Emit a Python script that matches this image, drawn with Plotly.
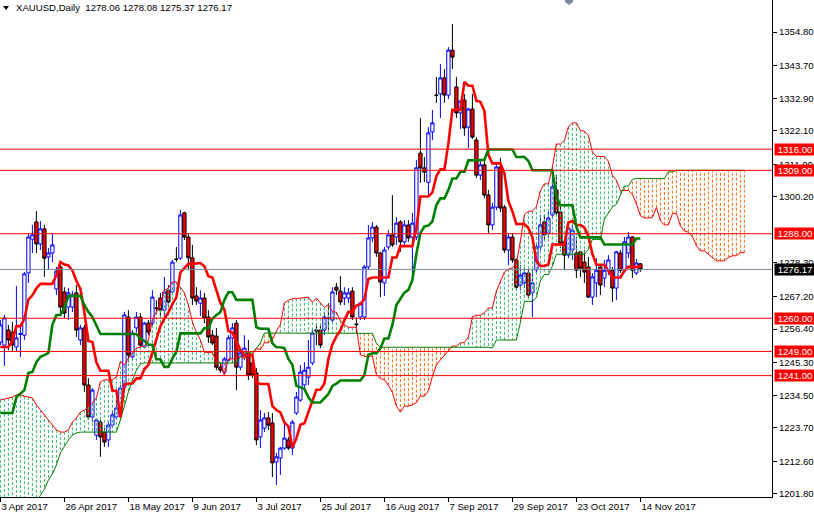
import plotly.graph_objects as go

# ---------------- data ----------------
date_labels = ['3 Apr 2017', '26 Apr 2017', '18 May 2017', '9 Jun 2017', '3 Jul 2017',
               '25 Jul 2017', '16 Aug 2017', '7 Sep 2017', '29 Sep 2017', '23 Oct 2017', '14 Nov 2017']
label_bars = [0, 16, 32, 48, 64, 80, 96, 112, 128, 144, 160]

price_ticks = [1354.80, 1343.70, 1332.90, 1322.10, 1311.00, 1300.20, 1278.30,
               1267.20, 1256.40, 1245.30, 1234.50, 1223.70, 1212.60, 1201.80]
level_lines = [1316.00, 1309.00, 1288.00, 1260.00, 1249.00, 1241.00]
bid_price = 1276.17
title_text = 'XAUUSD,Daily  1278.06 1278.08 1275.37 1276.17'

open_ = [1252.1, 1251.1, 1256.1, 1255.4, 1250.5, 1254.6, 1254.4, 1275.0, 1286.2, 1291.9,
         1284.6, 1289.6, 1280.3, 1281.6, 1269.7, 1277.0, 1268.7, 1263.7, 1263.7, 1268.4,
         1252.8, 1256.8, 1237.9, 1227.3, 1221.3, 1225.6, 1222.3, 1219.7, 1224.6, 1227.3,
         1228.9, 1237.2, 1260.4, 1247.2, 1256.8, 1260.4, 1250.5, 1258.4, 1258.4, 1263.4,
         1266.7, 1262.7, 1269.3, 1268.7, 1279.6, 1279.9, 1294.9, 1286.9, 1280.0, 1267.4,
         1265.0, 1266.7, 1260.4, 1254.4, 1254.1, 1243.8, 1242.2, 1246.1, 1253.5, 1258.4,
         1243.8, 1247.2, 1248.5, 1245.2, 1241.9, 1220.7, 1223.6, 1227.0, 1225.3, 1212.4,
         1213.7, 1217.0, 1219.7, 1217.0, 1228.6, 1232.9, 1237.9, 1240.5, 1245.2, 1256.1,
         1256.1, 1256.1, 1260.1, 1259.4, 1270.3, 1269.0, 1266.7, 1266.7, 1269.0, 1258.1,
         1260.4, 1260.4, 1277.0, 1286.6, 1290.2, 1281.6, 1271.7, 1283.6, 1287.6, 1286.9,
         1291.9, 1285.3, 1290.9, 1286.9, 1286.9, 1314.7, 1309.8, 1305.0, 1321.7, 1333.9,
         1334.3, 1339.6, 1333.9, 1348.8, 1336.6, 1328.0, 1332.3, 1323.3, 1329.3, 1319.0,
         1307.4, 1310.8, 1300.8, 1290.9, 1296.8, 1310.1, 1296.8, 1282.6, 1286.9, 1279.3,
         1271.0, 1271.7, 1275.0, 1268.4, 1276.0, 1283.6, 1291.9, 1288.2, 1294.2, 1302.5,
         1295.2, 1285.3, 1280.9, 1282.6, 1281.6, 1282.0, 1278.6, 1277.0, 1267.0, 1271.7,
         1277.0, 1273.3, 1275.9, 1275.9, 1270.0, 1281.6, 1275.9, 1281.6, 1286.9, 1275.0,
         1278.06]
high = [1259.4, 1261.1, 1257.8, 1258.8, 1270.7, 1257.8, 1275.3, 1288.2, 1290.9, 1295.5,
        1292.2, 1290.9, 1283.3, 1288.2, 1277.0, 1278.6, 1270.3, 1270.0, 1269.0, 1271.0,
        1257.8, 1257.8, 1240.2, 1236.9, 1227.0, 1226.3, 1223.6, 1226.3, 1229.6, 1232.9,
        1237.9, 1262.1, 1262.7, 1256.1, 1262.1, 1261.7, 1258.8, 1259.4, 1269.3, 1266.0,
        1268.4, 1273.7, 1271.0, 1279.3, 1283.6, 1295.9, 1295.3, 1288.2, 1284.3, 1270.3,
        1269.3, 1268.4, 1262.7, 1256.1, 1256.8, 1245.2, 1247.2, 1254.4, 1258.4, 1259.4,
        1250.1, 1254.4, 1252.8, 1246.1, 1243.5, 1229.6, 1228.6, 1229.0, 1228.6, 1215.4,
        1217.4, 1225.6, 1220.7, 1226.3, 1235.6, 1244.5, 1245.5, 1252.8, 1256.1, 1257.8,
        1257.8, 1262.1, 1265.0, 1270.3, 1271.7, 1274.0, 1270.3, 1270.0, 1270.3, 1260.4,
        1265.4, 1277.6, 1290.9, 1291.9, 1290.9, 1282.0, 1283.6, 1289.2, 1300.8, 1293.5,
        1292.5, 1292.5, 1292.5, 1294.9, 1312.4, 1326.3, 1313.4, 1323.3, 1329.0, 1339.9,
        1344.2, 1342.5, 1349.8, 1357.5, 1339.9, 1332.3, 1334.3, 1329.6, 1334.3, 1320.0,
        1312.4, 1312.4, 1302.5, 1298.2, 1311.4, 1313.1, 1297.5, 1288.2, 1288.2, 1279.9,
        1277.6, 1276.6, 1276.0, 1276.0, 1284.3, 1294.2, 1294.2, 1295.2, 1308.4, 1307.4,
        1298.2, 1285.9, 1290.9, 1290.9, 1286.9, 1282.3, 1282.6, 1280.3, 1275.0, 1279.9,
        1277.6, 1279.3, 1280.9, 1277.0, 1282.3, 1282.6, 1286.9, 1288.6, 1287.2, 1279.6,
        1278.08]
low = [1251.1, 1244.2, 1249.4, 1248.8, 1248.8, 1247.2, 1252.8, 1271.7, 1281.6, 1281.6,
       1282.6, 1273.7, 1276.3, 1278.6, 1267.7, 1261.7, 1260.1, 1259.4, 1262.1, 1253.8,
       1251.1, 1235.6, 1226.3, 1225.6, 1219.7, 1214.1, 1217.4, 1217.4, 1223.6, 1226.3,
       1228.0, 1236.2, 1245.5, 1246.1, 1255.4, 1250.5, 1250.1, 1254.4, 1257.4, 1261.1,
       1260.1, 1260.4, 1263.7, 1267.7, 1278.6, 1279.3, 1285.9, 1275.9, 1264.4, 1264.4,
       1260.7, 1258.4, 1251.8, 1251.1, 1242.8, 1241.9, 1241.2, 1245.5, 1245.2, 1236.2,
       1242.8, 1246.1, 1239.5, 1240.2, 1218.0, 1217.0, 1222.3, 1223.0, 1207.4, 1204.8,
       1208.1, 1216.4, 1216.4, 1214.7, 1228.0, 1232.3, 1236.2, 1237.9, 1244.5, 1251.1,
       1250.1, 1254.4, 1256.1, 1258.8, 1267.7, 1264.4, 1264.4, 1265.0, 1259.4, 1255.1,
       1259.4, 1259.4, 1275.9, 1285.3, 1280.3, 1267.0, 1267.4, 1282.6, 1283.6, 1284.3,
       1282.0, 1284.3, 1285.3, 1274.3, 1285.9, 1304.8, 1305.1, 1300.5, 1319.0, 1331.3,
       1326.3, 1331.3, 1332.6, 1342.5, 1326.3, 1322.7, 1320.4, 1316.4, 1319.4, 1306.4,
       1305.8, 1299.8, 1288.2, 1289.2, 1295.8, 1295.2, 1281.6, 1277.6, 1278.3, 1269.3,
       1269.3, 1270.0, 1266.7, 1260.4, 1275.0, 1282.6, 1285.9, 1286.6, 1293.2, 1294.2,
       1283.3, 1275.9, 1279.9, 1279.3, 1273.3, 1273.7, 1271.7, 1266.7, 1264.4, 1267.0,
       1267.7, 1270.3, 1274.3, 1265.4, 1266.0, 1275.0, 1275.0, 1279.9, 1273.3, 1274.3,
       1275.37]
close = [1257.8, 1260.1, 1252.8, 1251.1, 1253.5, 1254.9, 1274.7, 1286.9, 1287.6, 1284.6,
         1289.6, 1279.9, 1281.6, 1284.3, 1275.6, 1263.7, 1261.7, 1268.4, 1267.7, 1256.1,
         1256.8, 1237.9, 1227.3, 1236.2, 1226.3, 1220.7, 1219.0, 1224.6, 1228.0, 1230.3,
         1236.9, 1261.1, 1247.8, 1255.1, 1260.4, 1251.1, 1258.4, 1255.4, 1267.0, 1263.2,
         1262.7, 1268.7, 1265.4, 1278.6, 1279.5, 1294.2, 1286.9, 1280.0, 1266.7, 1265.7,
         1266.7, 1260.1, 1253.8, 1251.8, 1243.8, 1242.8, 1246.5, 1253.5, 1256.8, 1243.8,
         1248.5, 1250.1, 1241.2, 1241.2, 1219.7, 1226.3, 1227.0, 1224.6, 1212.1, 1214.1,
         1217.0, 1220.3, 1217.0, 1225.6, 1233.9, 1242.2, 1242.8, 1243.8, 1255.1, 1255.8,
         1251.1, 1260.4, 1259.9, 1268.7, 1269.3, 1265.4, 1268.4, 1268.4, 1260.4, 1257.9,
         1265.0, 1277.0, 1286.6, 1290.2, 1281.6, 1272.0, 1282.6, 1287.6, 1284.3, 1291.5,
         1285.3, 1290.9, 1286.6, 1291.5, 1309.8, 1309.8, 1308.4, 1321.4, 1324.7, 1333.8,
         1339.6, 1333.9, 1348.8, 1346.5, 1328.0, 1331.9, 1323.0, 1329.3, 1320.0, 1307.4,
         1310.8, 1300.8, 1290.9, 1296.8, 1310.1, 1296.5, 1282.6, 1286.9, 1279.3, 1270.3,
         1274.3, 1275.0, 1267.7, 1271.7, 1283.6, 1290.9, 1287.6, 1293.2, 1303.5, 1294.9,
         1284.9, 1280.9, 1289.9, 1289.2, 1275.9, 1276.6, 1275.3, 1267.0, 1273.7, 1275.9,
         1271.0, 1275.9, 1279.3, 1270.0, 1282.0, 1275.9, 1285.3, 1286.9, 1275.9, 1278.3,
         1276.17]

tenkan = [1250.5, 1250.5, 1250.5, 1252.5, 1257.4, 1257.4, 1259.8, 1266.2, 1267.6, 1269.9,
          1271.4, 1271.4, 1271.4, 1271.4, 1274.2, 1278.6, 1277.8, 1277.5, 1275.8, 1272.4,
          1269.7, 1261.9, 1252.5, 1252.1, 1245.4, 1242.6, 1242.6, 1242.6, 1236.0, 1236.0,
          1227.2, 1238.1, 1238.4, 1238.4, 1240.1, 1240.1, 1243.2, 1244.5, 1248.7, 1252.8,
          1257.4, 1259.9, 1261.9, 1264.7, 1266.9, 1275.2, 1276.7, 1278.0, 1278.0, 1278.2,
          1278.3, 1277.2, 1273.9, 1273.5, 1269.1, 1265.1, 1262.8, 1255.8, 1255.3, 1252.3,
          1249.5, 1247.8, 1247.8, 1247.8, 1238.7, 1238.2, 1238.2, 1238.2, 1230.9, 1229.6,
          1228.8, 1225.5, 1224.2, 1217.2, 1220.2, 1224.7, 1225.2, 1228.8, 1232.1, 1236.3,
          1236.3, 1238.4, 1246.5, 1251.3, 1254.0, 1256.0, 1259.3, 1262.1, 1262.1, 1264.2,
          1264.6, 1266.4, 1273.0, 1273.5, 1273.5, 1273.5, 1273.5, 1273.5, 1280.1, 1280.1,
          1283.9, 1283.9, 1283.9, 1283.9, 1289.9, 1300.3, 1300.3, 1300.3, 1301.7, 1307.1,
          1309.3, 1309.3, 1317.9, 1329.0, 1329.0, 1329.0, 1338.3, 1337.0, 1337.0, 1332.0,
          1331.7, 1328.7, 1314.1, 1311.3, 1311.3, 1311.3, 1308.0, 1298.8, 1295.4, 1291.2,
          1291.2, 1291.2, 1289.9, 1286.8, 1279.0, 1277.3, 1277.3, 1277.8, 1284.4, 1284.4,
          1284.4, 1284.4, 1291.7, 1292.2, 1290.9, 1290.9, 1290.1, 1287.1, 1281.3, 1277.7,
          1277.7, 1277.7, 1275.7, 1273.5, 1273.5, 1273.5, 1275.7, 1277.0, 1277.0, 1277.0,
          1277.0]
kijun = [1228.6, 1228.6, 1228.6, 1228.6, 1233.9, 1235.2, 1236.2, 1241.9, 1242.2, 1245.5,
         1247.2, 1247.8, 1248.5, 1257.8, 1261.1, 1261.1, 1263.4, 1267.4, 1267.4, 1267.4,
         1267.4, 1264.4, 1262.1, 1260.4, 1257.8, 1254.8, 1254.8, 1254.8, 1254.8, 1254.8,
         1254.8, 1254.8, 1254.8, 1254.8, 1254.8, 1253.2, 1252.5, 1251.2, 1251.2, 1246.4,
         1246.4, 1243.9, 1243.9, 1246.7, 1248.9, 1255.0, 1255.0, 1255.0, 1255.0, 1255.0,
         1255.0, 1256.7, 1256.7, 1259.8, 1261.1, 1262.0, 1266.1, 1268.6, 1268.6, 1266.1,
         1266.1, 1266.1, 1266.1, 1266.1, 1257.0, 1256.5, 1256.5, 1256.5, 1251.7, 1250.4,
         1250.4, 1250.1, 1246.5, 1244.6, 1237.6, 1237.1, 1236.6, 1233.8, 1232.1, 1232.1,
         1232.1, 1233.5, 1234.9, 1237.6, 1238.3, 1239.4, 1239.4, 1239.4, 1239.4, 1239.4,
         1239.4, 1241.2, 1247.9, 1248.4, 1248.4, 1250.0, 1253.3, 1253.3, 1257.8, 1264.4,
         1266.6, 1268.5, 1269.4, 1272.7, 1281.3, 1288.2, 1290.4, 1290.7, 1292.1, 1297.5,
         1299.7, 1299.7, 1302.5, 1306.3, 1306.3, 1308.5, 1308.5, 1312.3, 1312.3, 1312.3,
         1312.3, 1312.5, 1315.9, 1315.9, 1315.9, 1315.9, 1315.9, 1315.9, 1315.9, 1313.4,
         1313.4, 1313.4, 1312.1, 1309.0, 1309.0, 1309.0, 1309.0, 1309.0, 1309.0, 1300.2,
         1297.4, 1297.4, 1297.4, 1297.4, 1290.2, 1286.8, 1286.8, 1286.8, 1286.8, 1286.8,
         1286.8, 1284.4, 1284.4, 1284.4, 1284.4, 1284.4, 1284.4, 1284.4, 1284.4, 1286.4,
         1286.4]
senkou_a = [1232.9, 1233.3, 1233.6, 1233.9, 1234.6, 1234.6, 1234.2, 1233.9, 1233.6, 1231.3,
            1229.6, 1228.3, 1226.3, 1224.6, 1223.0, 1222.3, 1222.3, 1223.0, 1225.6, 1227.0,
            1228.9, 1229.6, 1230.6, 1231.9, 1233.6, 1238.9, 1239.6, 1239.6, 1239.6, 1240.6,
            1245.7, 1244.5, 1246.8, 1248.5, 1250.1, 1250.5, 1250.8, 1252.8, 1259.4, 1262.1,
            1264.4, 1269.3, 1270.0, 1272.0, 1272.0, 1270.3, 1268.4, 1264.4, 1258.8, 1255.4,
            1252.8, 1248.7, 1248.7, 1248.7, 1245.4, 1245.4, 1241.0, 1246.5, 1246.6, 1246.6,
            1247.5, 1246.7, 1247.9, 1247.9, 1250.0, 1249.6, 1251.9, 1251.9, 1252.9, 1255.7,
            1257.9, 1265.1, 1265.9, 1266.5, 1266.5, 1266.6, 1266.7, 1267.0, 1265.3, 1266.7,
            1265.1, 1263.6, 1264.5, 1262.2, 1262.0, 1259.2, 1257.8, 1257.0, 1257.0, 1257.0,
            1247.9, 1247.4, 1247.4, 1247.4, 1241.3, 1240.0, 1239.6, 1237.8, 1235.4, 1230.9,
            1228.9, 1230.9, 1230.9, 1231.3, 1232.1, 1234.2, 1234.2, 1236.0, 1240.7, 1244.5,
            1246.2, 1247.7, 1249.4, 1250.8, 1250.8, 1251.8, 1252.0, 1253.8, 1260.5, 1261.0,
            1261.0, 1261.8, 1263.4, 1263.4, 1269.0, 1272.3, 1275.3, 1276.2, 1276.7, 1278.3,
            1285.6, 1294.3, 1295.4, 1295.5, 1296.9, 1302.3, 1304.5, 1304.5, 1310.2, 1317.7,
            1317.7, 1318.8, 1323.4, 1324.7, 1324.7, 1322.2, 1322.0, 1320.6, 1315.0, 1313.6,
            1313.6, 1313.6, 1312.0, 1307.4, 1305.7, 1302.3, 1302.3, 1302.3, 1301.0, 1297.9,
            1294.0, 1293.2, 1293.2, 1293.4, 1296.7, 1292.3, 1290.9, 1290.9, 1294.6, 1294.8,
            1290.6, 1288.9, 1288.5, 1287.0, 1284.1, 1282.3, 1282.3, 1281.1, 1280.1, 1279.0,
            1279.0, 1279.0, 1280.1, 1280.7, 1280.7, 1281.7, 1281.7]
senkou_b = [1190.0, 1190.0, 1190.0, 1190.0, 1190.0, 1190.0, 1190.0, 1190.0, 1190.0, 1198.8,
            1201.4, 1203.4, 1206.4, 1208.4, 1211.4, 1215.4, 1217.7, 1219.7, 1221.3, 1222.0,
            1222.3, 1222.3, 1222.3, 1222.3, 1222.3, 1222.3, 1222.3, 1222.3, 1222.3, 1222.3,
            1226.3, 1231.3, 1235.6, 1239.5, 1242.8, 1244.8, 1245.2, 1245.2, 1245.2, 1245.2,
            1245.2, 1245.2, 1245.2, 1245.2, 1245.2, 1245.2, 1245.2, 1245.2, 1245.2, 1245.2,
            1245.2, 1245.2, 1245.2, 1245.2, 1245.2, 1245.2, 1245.2, 1245.2, 1245.2, 1245.2,
            1247.2, 1248.8, 1248.8, 1248.8, 1250.1, 1251.8, 1255.1, 1255.1, 1255.1, 1255.1,
            1255.1, 1255.1, 1255.1, 1255.1, 1255.1, 1255.1, 1255.1, 1255.0, 1255.0, 1255.0,
            1255.0, 1255.0, 1255.0, 1255.0, 1255.0, 1255.0, 1255.0, 1255.0, 1255.0, 1255.0,
            1255.0, 1255.0, 1255.0, 1255.0, 1251.7, 1250.4, 1250.4, 1250.4, 1250.4, 1250.4,
            1250.4, 1250.4, 1250.4, 1250.4, 1250.4, 1250.4, 1250.4, 1250.4, 1250.4, 1250.4,
            1250.4, 1250.4, 1250.4, 1250.4, 1250.4, 1250.4, 1250.4, 1250.4, 1250.4, 1250.4,
            1250.4, 1250.4, 1250.4, 1250.1, 1252.8, 1252.8, 1252.8, 1252.8, 1252.8, 1252.8,
            1258.6, 1265.6, 1265.6, 1265.6, 1266.9, 1272.4, 1274.5, 1274.5, 1277.3, 1281.2,
            1281.2, 1281.2, 1281.2, 1281.2, 1281.2, 1281.2, 1281.2, 1282.8, 1286.1, 1286.1,
            1286.1, 1292.8, 1294.9, 1296.9, 1297.7, 1301.0, 1303.8, 1303.8, 1306.0, 1306.3,
            1306.3, 1306.3, 1306.3, 1306.3, 1306.3, 1306.3, 1306.3, 1308.5, 1308.5, 1309.0,
            1309.0, 1309.0, 1309.0, 1309.0, 1309.0, 1309.0, 1309.0, 1309.0, 1309.0, 1309.0,
            1309.0, 1309.0, 1309.0, 1309.0, 1309.0, 1309.0, 1309.0]

# ---------------- figure ----------------
W, H = 814, 514
ML, MR, MT, MB = 0, 42, 0, 17
PW, PH = W - ML - MR, H - MT - MB
BAR_PX = 4.0
x_lo = -0.1
x_hi = x_lo + PW / BAR_PX
y_lo, y_hi = 1200.8, 1365.4
FONT = 'Liberation Sans, Arial, sans-serif'

bars = list(range(len(close)))
cloud_x = list(range(len(senkou_a)))

GREEN_DOT = '#3CB371'
ORANGE_DOT = '#FF6A13'

fig = go.Figure()

fig.add_trace(go.Candlestick(
    x=bars, open=open_, high=high, low=low, close=close,
    increasing=dict(line=dict(color='#0000FF', width=1), fillcolor='#FFFFFF'),
    decreasing=dict(line=dict(color='#000000', width=1), fillcolor='#FF0000'),
    whiskerwidth=0, hoverinfo='skip', showlegend=False))

# kumo (cloud) as vertical dotted strokes, one per bar
gx, gy, ox, oy = [], [], [], []
for j in cloud_x:
    a, b = senkou_a[j], senkou_b[j]
    if a >= b:
        gx += [j, j, None]
        gy += [a, b, None]
    else:
        ox += [j, j, None]
        oy += [a, b, None]
fig.add_trace(go.Scatter(x=gx, y=gy, mode='lines', line=dict(color=GREEN_DOT, width=1, dash='3px,2px'),
                         hoverinfo='skip', showlegend=False))
fig.add_trace(go.Scatter(x=ox, y=oy, mode='lines', line=dict(color=ORANGE_DOT, width=1, dash='3px,2px'),
                         hoverinfo='skip', showlegend=False))
fig.add_trace(go.Scatter(x=cloud_x, y=senkou_a, mode='lines', line=dict(color='#FF0000', width=1),
                         hoverinfo='skip', showlegend=False))
fig.add_trace(go.Scatter(x=cloud_x, y=senkou_b, mode='lines', line=dict(color='#008000', width=1),
                         hoverinfo='skip', showlegend=False))
fig.add_trace(go.Scatter(x=bars, y=tenkan, mode='lines', line=dict(color='#FF0000', width=2.6),
                         hoverinfo='skip', showlegend=False))
fig.add_trace(go.Scatter(x=bars, y=kijun, mode='lines', line=dict(color='#008000', width=2.6),
                         hoverinfo='skip', showlegend=False))

shapes = []
for lv in level_lines:
    shapes.append(dict(type='line', xref='paper', x0=0, x1=1, yref='y', y0=lv, y1=lv,
                       line=dict(color='#FF0000', width=1), layer='above'))
shapes.append(dict(type='line', xref='paper', x0=0, x1=1, yref='y', y0=bid_price, y1=bid_price,
                   line=dict(color='#778899', width=1), layer='above'))


def px(xp):
    return xp / PW


def py(yp):
    return 1 - yp / PH


# small black triangle before the title
shapes.append(dict(type='path', xref='paper', yref='paper',
                   path=f'M {px(3)} {py(6)} L {px(9)} {py(6)} L {px(6)} {py(10)} Z',
                   fillcolor='#000000', line=dict(width=0), layer='above'))
# chart-shift marker at top
shapes.append(dict(type='path', xref='paper', yref='paper',
                   path=f'M {px(565)} {py(0)} L {px(573)} {py(0)} L {px(573)} {py(2)} L {px(569)} {py(5)} L {px(565)} {py(2)} Z',
                   fillcolor='#7A8796', line=dict(width=0), layer='above'))

annotations = [dict(text=title_text, xref='paper', yref='paper', x=px(14), y=py(8),
                    xanchor='left', yanchor='middle', showarrow=False,
                    font=dict(family=FONT, size=9.6, color='#000000'))]
for lv in level_lines:
    annotations.append(dict(text=f'{lv:.2f}', xref='paper', x=1, xanchor='left', xshift=2,
                            yref='y', y=lv, yanchor='middle', showarrow=False,
                            width=40, height=11, bgcolor='#FF0000', borderpad=0, align='center',
                            font=dict(family=FONT, size=9.6, color='#FFFFFF')))
annotations.append(dict(text=f'{bid_price:.2f}', xref='paper', x=1, xanchor='left', xshift=2,
                        yref='y', y=bid_price, yanchor='middle', showarrow=False,
                        width=40, height=11, bgcolor='#000000', borderpad=0, align='center',
                        font=dict(family=FONT, size=9.6, color='#FFFFFF')))

fig.update_layout(
    width=W, height=H, margin=dict(l=ML, r=MR, t=MT, b=MB),
    paper_bgcolor='#FFFFFF', plot_bgcolor='#FFFFFF',
    showlegend=False, shapes=shapes, annotations=annotations,
    boxgap=0.18, boxgroupgap=0,
    font=dict(family=FONT, size=9.6, color='#000000'),
    xaxis=dict(range=[x_lo, x_hi], rangeslider=dict(visible=False), showgrid=False, zeroline=False,
               showline=True, linecolor='#000000', linewidth=1,
               ticks='outside', ticklen=4, tickcolor='#000000',
               tickvals=label_bars, ticktext=date_labels, ticklabelposition='outside right',
               tickfont=dict(size=9.6)),
    yaxis=dict(range=[y_lo, y_hi], side='right', showgrid=False, zeroline=False,
               showline=True, linecolor='#000000', linewidth=1,
               ticks='outside', ticklen=4, tickcolor='#000000',
               tickvals=price_ticks, ticktext=[f'{v:.2f}' for v in price_ticks],
               tickfont=dict(size=9.6)),
)

fig.write_html('out.html', config={'displayModeBar': False, 'staticPlot': True},
               post_script="document.body.style.margin='0px';document.body.style.padding='0px';")
